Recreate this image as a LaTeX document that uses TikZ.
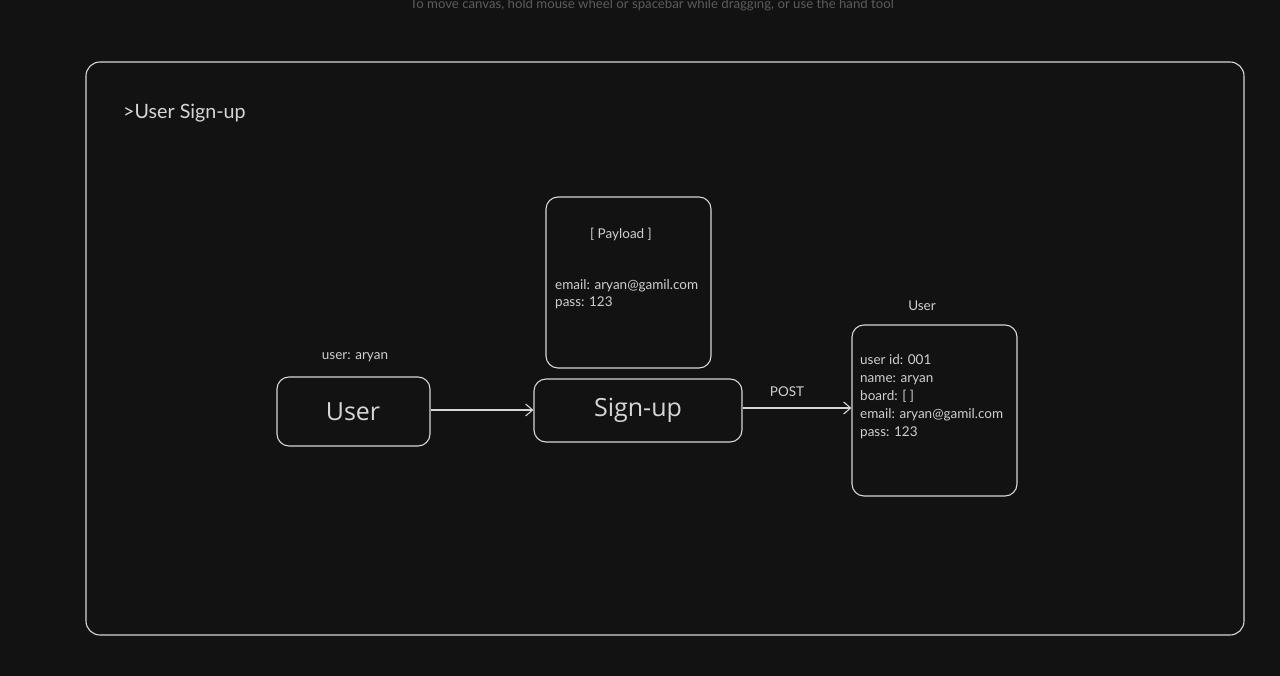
\documentclass[tikz,border=0pt]{standalone}
\usepackage{fontspec}
\setmainfont{Lato}
\newfontfamily\handfont{Open Sans}
\usetikzlibrary{arrows.meta}
\definecolor{bg}{HTML}{121212}
\definecolor{ink}{HTML}{D6D6D6}
\definecolor{txt}{HTML}{CFCFCF}
\definecolor{hint}{HTML}{5C5C5C}
\tikzset{
  box/.style={draw=ink, line width=1.1pt, rounded corners=12pt, inner sep=0pt},
  lbl/.style={text=txt, font=\fontsize{13.5}{15}\selectfont, inner sep=0pt},
  hand/.style={text=ink, font=\handfont\fontsize{25}{28}\selectfont, inner sep=0pt},
  conn/.style={draw=ink, line width=1.1pt, -{Straight Barb[length=7pt,width=12pt,line width=1.1pt]}},
}
\begin{document}
\begin{tikzpicture}[x=1pt,y=-1pt]
\useasboundingbox[fill=bg] (0,0) rectangle (1280,676);
% hint text
\node[text=hint, font=\fontsize{13.2}{15}\selectfont, inner sep=0pt] (hinttxt) at (652,5) {To move canvas, hold mouse wheel or spacebar while dragging, or use the hand tool};
% outer frame
\node[box, rounded corners=14pt, minimum width=1158pt, minimum height=573pt] (frame) at (665,348.5) {};
\node[text=ink, font=\fontsize{19.7}{22}\selectfont, anchor=west, inner sep=0pt] (title) at (123,113.5) {>User Sign-up};
% payload box
\node[box, minimum width=165pt, minimum height=171pt] (payload) at (628.5,282.5) {};
\node[lbl, anchor=base] (plhead) at (621,239) {[ Payload ]};
\node[lbl, anchor=base west] (pl1) at (555,289.5) {email: aryan@gamil.com};
\node[lbl, anchor=base west] (pl2) at (555,306.5) {pass: 123};
% user box
\node[box, minimum width=153pt, minimum height=69pt] (user) at (353.5,411.5) {};
\node[hand] (usertxt) at (353,412) {User};
\node[lbl, anchor=base] (userlbl) at (355,359.5) {user: aryan};
% sign-up box
\node[box, minimum width=208pt, minimum height=63pt] (signup) at (638,410.5) {};
\node[hand] (signuptxt) at (638,410) {Sign-up};
% db box
\node[box, minimum width=165pt, minimum height=171pt] (db) at (934.5,410.5) {};
\node[lbl, anchor=base] (dblbl) at (922,311) {User};
\node[lbl, anchor=base west] (d1) at (860,364.5) {user id: 001};
\node[lbl, anchor=base west] (d2) at (860,382.5) {name: aryan};
\node[lbl, anchor=base west] (d3) at (860,400) {board: [ ]};
\node[lbl, anchor=base west] (d4) at (860,418) {email: aryan@gamil.com};
\node[lbl, anchor=base west] (d5) at (860,436) {pass: 123};
% connectors
\draw[conn] (user.east |- 0,410) -- (signup.west |- 0,410);
\draw[conn] (signup.east |- 0,408) -- (db.west |- 0,408);
\node[lbl, anchor=base] (post) at (787,396) {POST};
\end{tikzpicture}
\end{document}
